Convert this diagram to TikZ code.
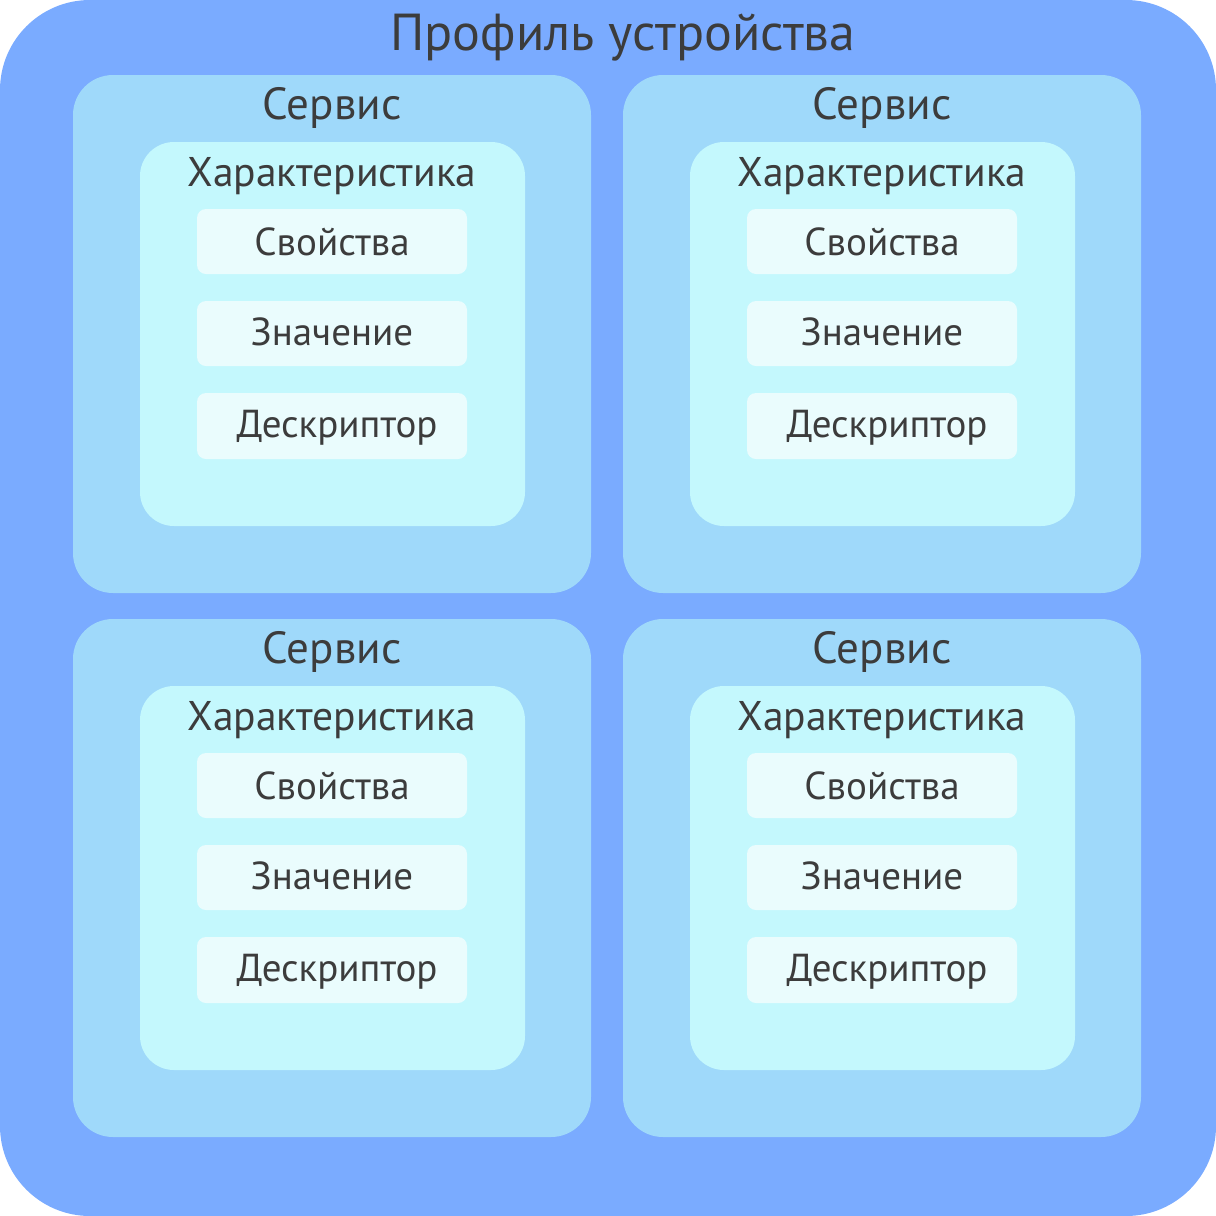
\documentclass[tikz,border=0pt]{standalone}
\usepackage{fontspec}
\setmainfont{PT Sans}
\definecolor{outerc}{HTML}{7AABFF}
\definecolor{servc}{HTML}{9FD9FA}
\definecolor{charc}{HTML}{C4F8FD}
\definecolor{itemc}{HTML}{EAFCFD}
\definecolor{txt}{HTML}{3C3C3C}
\tikzset{
  titletext/.style={text=txt, font=\fontsize{52}{60}\selectfont, inner sep=0pt},
  servtext/.style={text=txt, font=\fontsize{45}{50}\selectfont, inner sep=0pt},
  chartext/.style={text=txt, font=\fontsize{41.5}{50}\selectfont, inner sep=0pt},
  itemtext/.style={text=txt, font=\fontsize{39}{46}\selectfont, inner sep=0pt},
}
\begin{document}
\begin{tikzpicture}[x=1pt,y=-1pt]
\useasboundingbox (0,0) rectangle (1216,1216);
\fill[outerc, rounded corners=90pt] (0,0) rectangle (1216,1216);
\node[titletext] (title) at (623,38) {Профиль устройства};
\foreach \dx/\dy/\n in {0/0/a, 550/0/b, 0/544/c, 550/544/d}{
  \begin{scope}[shift={(\dx,\dy)}]
  \fill[servc, rounded corners=40pt] (73,75) rectangle (591,593);
  \node[servtext] (serv\n) at (332,108) {Сервис};
  \fill[charc, rounded corners=34pt] (140,142) rectangle (525,526);
  \node[chartext] (char\n) at (332,176) {Характеристика};
  \fill[itemc, rounded corners=9pt] (197,209) rectangle (467,274);
  \node[itemtext] (prop\n) at (332,241.5) {Свойства};
  \fill[itemc, rounded corners=9pt] (197,301) rectangle (467,366);
  \node[itemtext] (val\n) at (332,331.5) {Значение};
  \fill[itemc, rounded corners=9pt] (197,393) rectangle (467,459);
  \node[itemtext] (desc\n) at (337,428) {Дескриптор};
  \end{scope}
}
\end{tikzpicture}
\end{document}
